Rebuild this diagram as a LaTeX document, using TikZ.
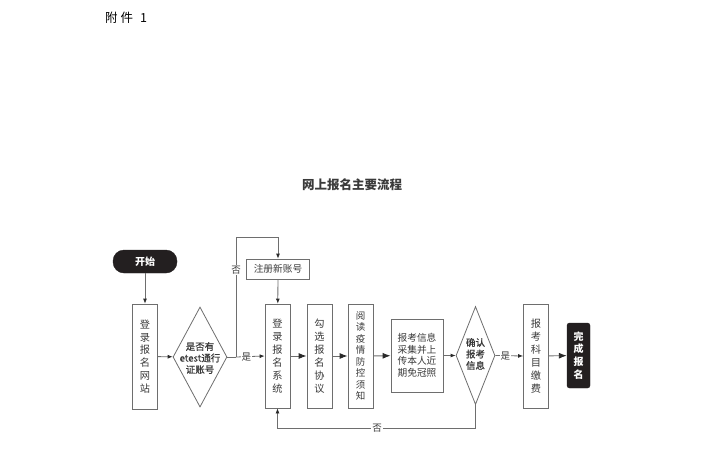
\documentclass[tikz,border=0pt]{standalone}
\usepackage{fontspec}
\newfontfamily\cjk{Noto Sans CJK SC}
\newfontfamily\cjkmed[FakeBold=0.7]{Noto Sans CJK SC}
\usetikzlibrary{shapes.geometric,arrows.meta}
\definecolor{linegray}{HTML}{6E6E6E}
\definecolor{txtgray}{HTML}{3A3A3A}
\definecolor{tipgray}{HTML}{2A2A2A}
\definecolor{darkfill}{HTML}{231F20}
\begin{document}
\begin{tikzpicture}[x=1pt,y=-1pt,
  vbox/.style={draw=linegray, line width=0.8pt, fill=white, minimum width=25pt, minimum height=104pt, inner sep=0pt, align=center, text=txtgray, font=\cjk\fontsize{10.2}{12.9}\selectfont},
  hbox/.style={draw=linegray, line width=0.8pt, fill=white, inner sep=0pt, align=center, text=txtgray, font=\cjk\fontsize{9.7}{11.5}\selectfont},
  dshape/.style={draw=linegray, line width=0.8pt, fill=white, diamond, inner sep=0pt},
  dtext/.style={align=center, text=txtgray, font=\cjkmed\fontsize{9.5}{11.5}\selectfont, inner sep=0pt},
  blackbox/.style={fill=darkfill, draw=darkfill, text=white, align=center, inner sep=0pt, font=\cjk\bfseries\fontsize{10}{12.8}\selectfont},
  lbl/.style={fill=white, inner sep=1pt, text=txtgray, font=\cjk\fontsize{9.5}{11}\selectfont},
  arr/.style={draw=linegray, line width=0.8pt, -{Latex[length=5pt,width=4pt,color=tipgray]}},
  bigarr/.style={draw=linegray, line width=0.9pt, -{Latex[length=8pt,width=6pt,color=tipgray]}},
  ln/.style={draw=linegray, line width=0.8pt}
]
\useasboundingbox (0,0) rectangle (710,472);
% header and title
\node[anchor=west, text=black, font=\cjk\fontsize{12.5}{14}\selectfont, inner sep=0pt] (att) at (105,18) {附\hspace{3pt}件\hspace{7pt}1};
\node[text=txtgray, font=\cjk\bfseries\fontsize{12.5}{14}\selectfont, inner sep=0pt] (title) at (352,185) {网上报名主要流程};
% nodes
\node[blackbox, rounded corners=11pt, minimum width=64pt, minimum height=23pt] (start) at (145,261.5) {开始};
\node[vbox, minimum height=105pt] (b1) at (145,356.5) {登\\录\\报\\名\\网\\站};
\node[dshape, minimum width=54pt, minimum height=100pt] (d1) at (200,357) {};
\node[dtext] (d1t) at (200,358) {是否有\\etest通行\\证账号};
\node[vbox] (b2) at (277.5,356) {登\\录\\报\\名\\系\\统};
\node[hbox, minimum width=63pt, minimum height=20pt] (reg) at (278,269) {注册新账号};
\node[vbox] (b3) at (319.5,356) {勾\\选\\报\\名\\协\\议};
\node[vbox, font=\cjk\fontsize{9.5}{11.5}\selectfont] (b4) at (360.5,356) {阅\\读\\疫\\情\\防\\控\\须\\知};
\node[hbox, minimum width=52pt, minimum height=73pt] (b5) at (417,355.5) {报考信息\\采集并上\\传本人近\\期免冠照};
\node[dshape, minimum width=39pt, minimum height=98pt] (d2) at (475.5,355.5) {};
\node[dtext] (d2t) at (475.5,354) {确认\\报考\\信息};
\node[vbox] (b6) at (536,356) {报\\考\\科\\目\\缴\\费};
\node[blackbox, rounded corners=2.5pt, minimum width=23pt, minimum height=65pt] (end) at (578.5,355.5) {完\\成\\报\\名};
% coordinates
\coordinate (J) at (236,357);
\coordinate (T) at (236,237);
\coordinate (B) at (475.5,428);
% connectors
\draw[arr] (start) -- (b1);
\draw[arr] (b1) -- (d1);
\draw[ln] (d1.east) -- (J);
\draw[arr] (J) -- (b2.west) node[lbl, pos=0.36] (yes1) {是};
\draw[arr] (J) -- (T) -| (reg.north);
\node[lbl] (no1) at (236,270) {否};
\draw[arr] (reg) -- (b2);
\draw[bigarr] (b2) -- (b3);
\draw[bigarr] (b3) -- (b4);
\draw[bigarr] (b4) -- (b5);
\draw[arr] (b5) -- (d2.west);
\draw[arr] (d2.east) -- (b6.west) node[lbl, pos=0.36] (yes2) {是};
\draw[bigarr] (b6) -- (end);
\draw[arr] (d2.south) -- (B) -| (b2.south);
\node[lbl] (no2) at (377,428) {否};
\end{tikzpicture}
\end{document}
